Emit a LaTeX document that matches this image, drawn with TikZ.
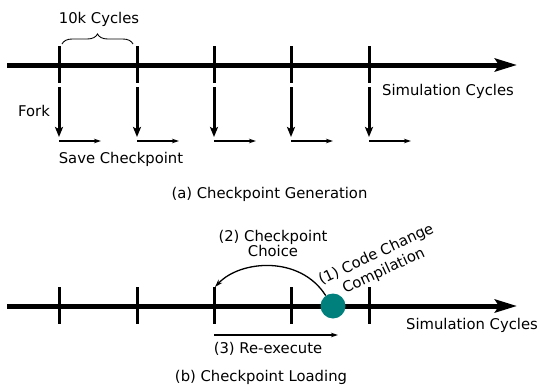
\documentclass[tikz,border=0pt]{standalone}
\usepackage{fontspec}
\setmainfont{DejaVu Sans}
\usetikzlibrary{arrows.meta,decorations.pathreplacing}
\definecolor{tealdot}{RGB}{0,128,125}
\begin{document}
\begin{tikzpicture}[x=1pt,y=-1pt,
  font=\fontsize{14.8}{18}\selectfont,
  axis/.style={line width=5pt,-{Stealth[length=22pt,width=13pt,inset=4pt]}},
  tickmark/.style={line width=3pt},
  fork/.style={line width=3pt,-{Stealth[length=10pt,width=8pt,inset=2pt]}},
  save/.style={line width=1.3pt,-{Stealth[length=7pt,width=4.5pt]}},
  curvearrow/.style={line width=1.3pt,-{Stealth[length=8pt,width=5pt]}},
  lbl/.style={inner sep=0pt,anchor=base}]
\useasboundingbox (0,0) rectangle (539,391);
% ---------- (a) ----------
\coordinate (a0) at (7,65);
\coordinate (a1) at (517,65);
\draw[axis] (a0) -- (a1);
\foreach \x [count=\i] in {59,137,214,291,369}{
  \coordinate (tt\i) at (\x,46);
  \coordinate (tb\i) at (\x,83);
  \draw[tickmark] (tt\i) -- (tb\i);
  \coordinate (fs\i) at (\x,87);
  \coordinate (fe\i) at (\x,137);
  \draw[fork] (fs\i) -- (fe\i);
  \coordinate (ss\i) at (\x,141);
  \coordinate (se\i) at (\x+42,141);
  \draw[save] (ss\i) -- (se\i);
}
\coordinate (bl) at (62,44);
\coordinate (br) at (133,44);
\draw[decorate,decoration={brace,amplitude=10pt},line width=0.9pt] (bl) -- (br);
\node[lbl] (tenk) at (99,23) {10k Cycles};
\node[lbl] (fork) at (34,116) {Fork};
\node[lbl] (savecp) at (121,163) {Save Checkpoint};
\node[lbl] (simA) at (448,95) {Simulation Cycles};
\node[lbl] (capA) at (269.5,198) {(a) Checkpoint Generation};
% ---------- (b) ----------
\coordinate (b0) at (7,306);
\coordinate (b1) at (517,306);
\draw[axis] (b0) -- (b1);
\foreach \x [count=\i] in {59,137,214,291,369}{
  \coordinate (bt\i) at (\x,287);
  \coordinate (bb\i) at (\x,324);
  \draw[tickmark] (bt\i) -- (bb\i);
}
\node[circle,fill=tealdot,minimum size=25pt,inner sep=0pt] (dot) at (333,306) {};
\coordinate (ct) at (215,287);
\draw[curvearrow] (dot.125) .. controls (300,255) and (240,260) .. (ct);
\coordinate (re0) at (214,335);
\coordinate (re1) at (338,335);
\draw[save] (re0) -- (re1);
\node[lbl] (choice) at (273,241) {(2) Checkpoint};
\node[lbl] (choice2) at (273,256) {Choice};
\node[inner sep=0pt,align=center,rotate=25] (code) at (380,263) {(1) Code Change\\Compilation};
\node[lbl] (simB) at (472,329) {Simulation Cycles};
\node[lbl] (reex) at (268,353) {(3) Re-execute};
\node[lbl] (capB) at (261,381) {(b) Checkpoint Loading};
\end{tikzpicture}
\end{document}
